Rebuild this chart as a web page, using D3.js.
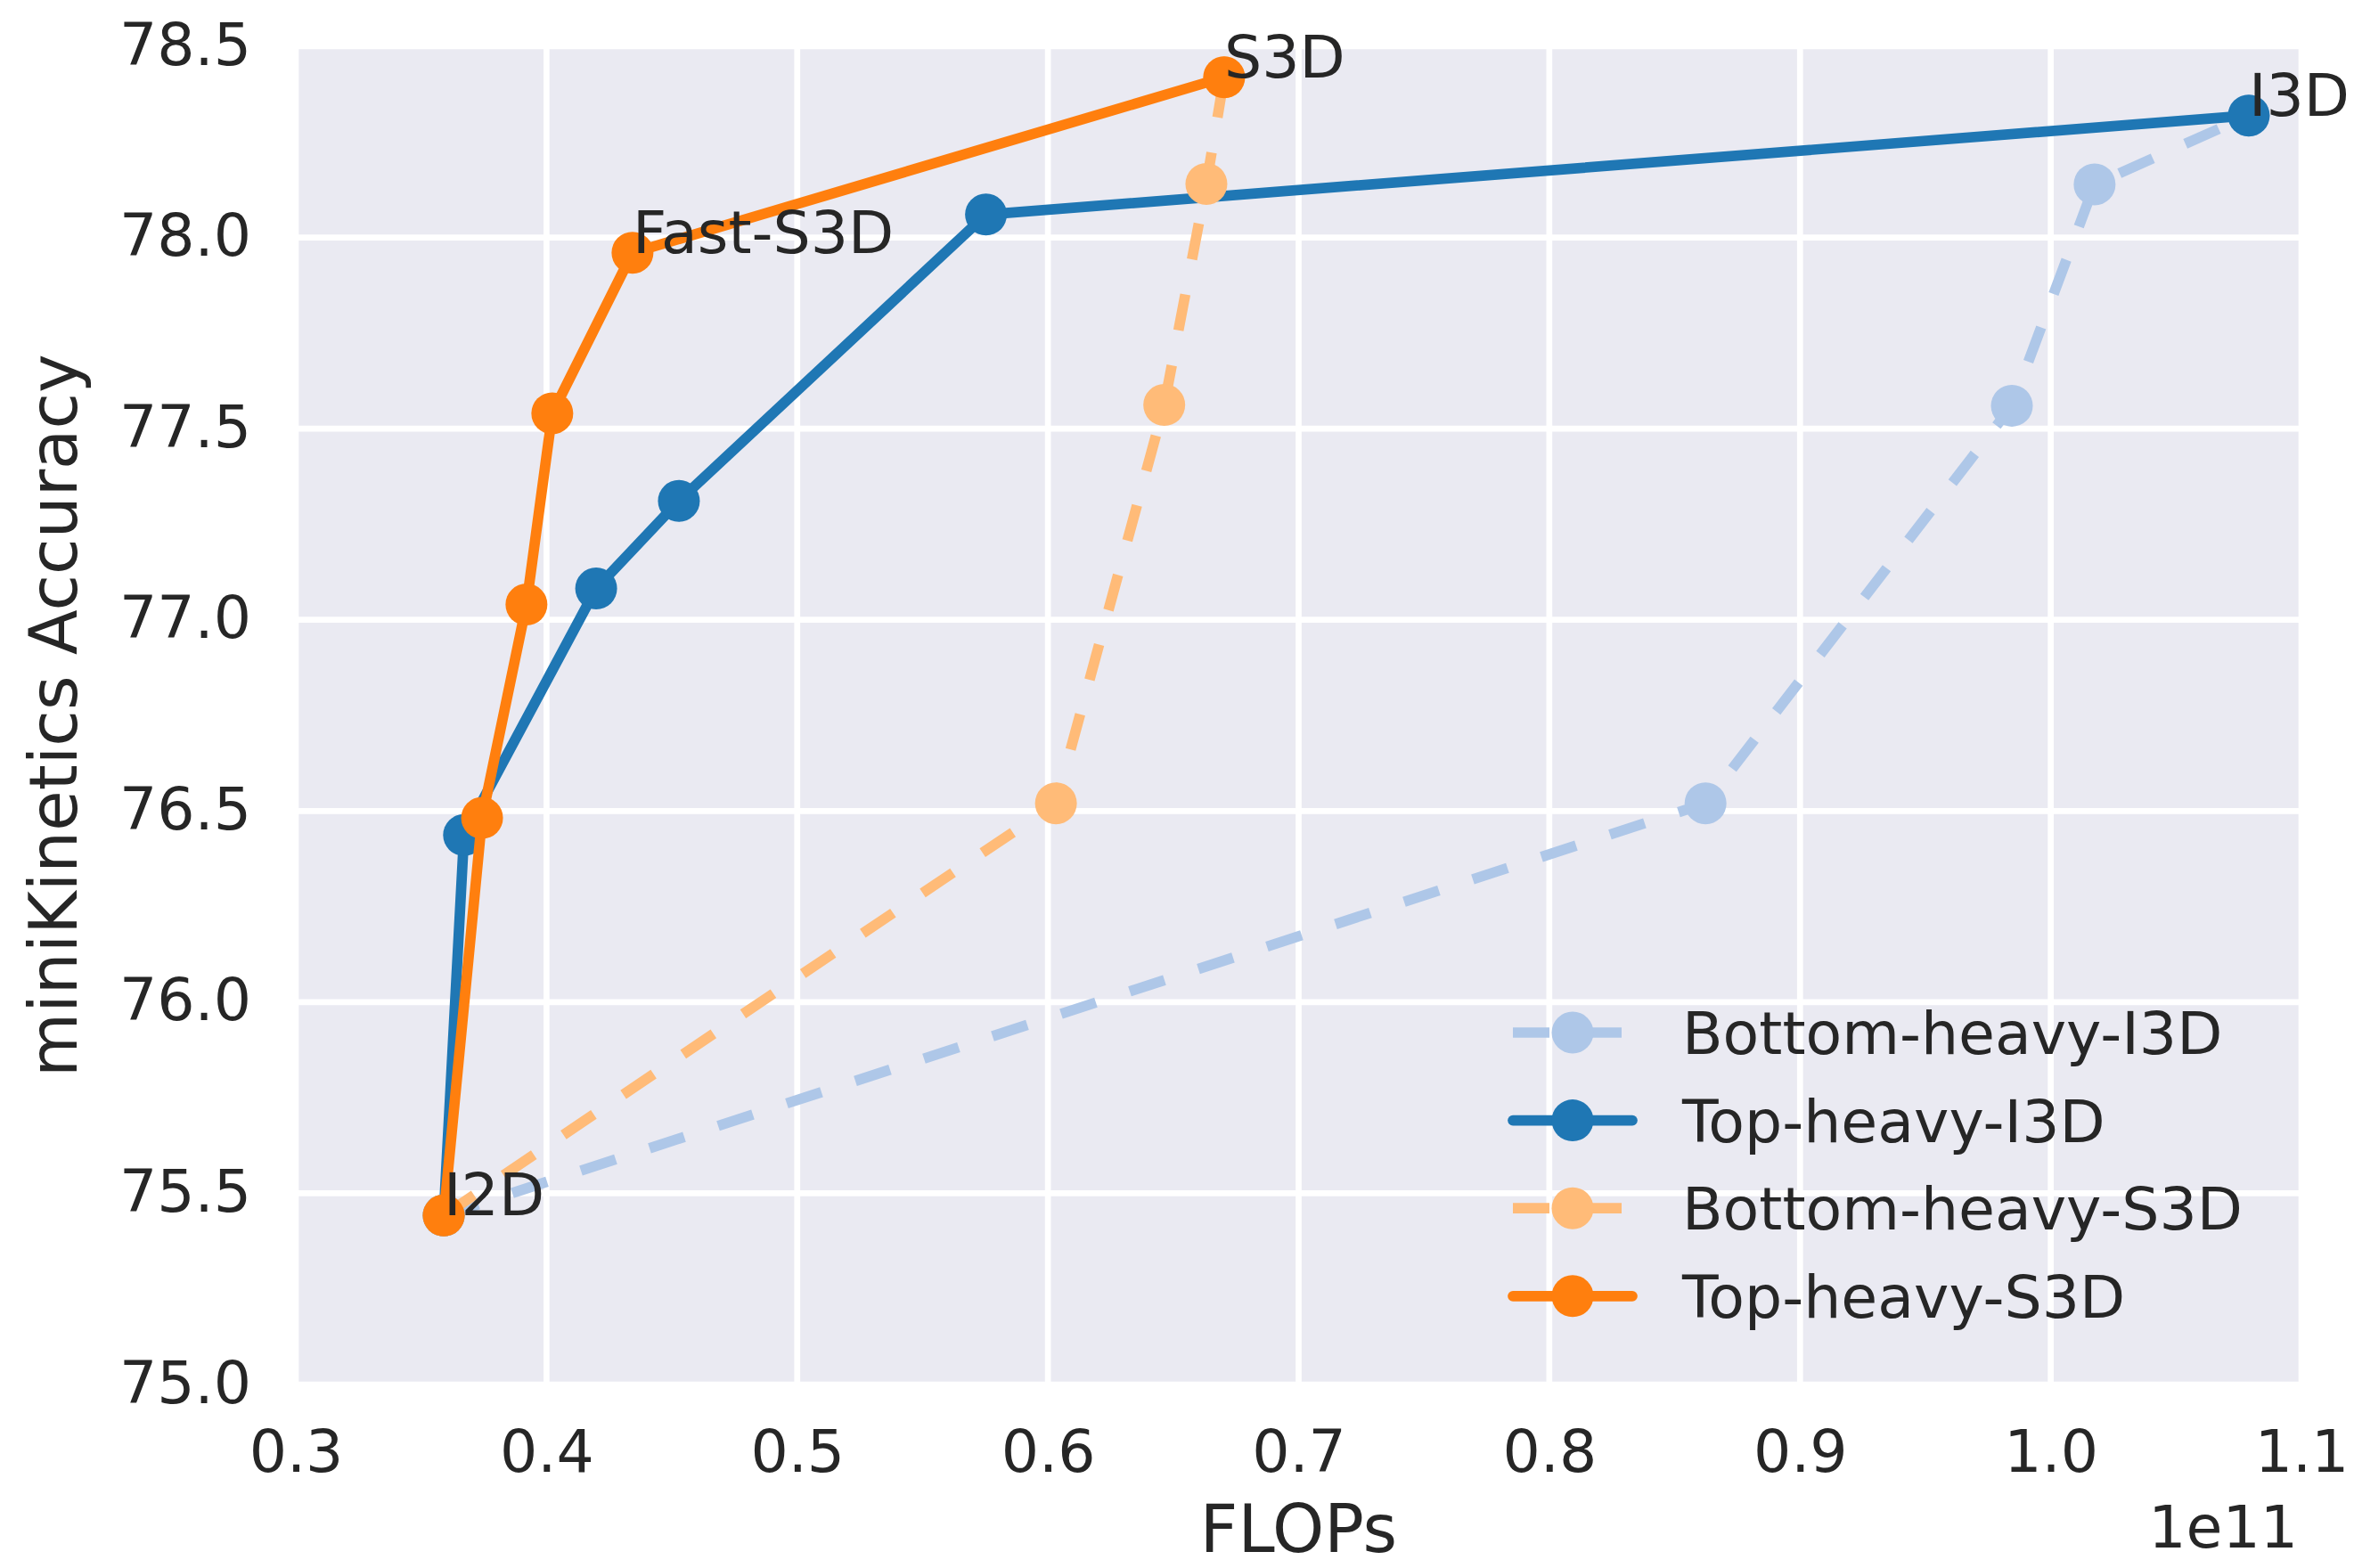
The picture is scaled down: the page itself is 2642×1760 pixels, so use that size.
<!DOCTYPE html>
<html>
<head>
<meta charset="utf-8">
<script src="https://cdn.jsdelivr.net/npm/d3@7"></script>
<style>
body { margin: 0; background: #ffffff; }
text { font-family: "DejaVu Sans", sans-serif; fill: #262626; }
</style>
</head>
<body>
<div id="plot"></div>
<script>
// values (FLOPs in units of 1e11)
const flopsBottomI3D = [0.359, 0.8623, 0.9845, 1.0175, 1.079];
const accBottomI3D   = [75.442, 76.52, 77.56, 78.139, 78.319];

const flopsTopI3D = [0.359, 0.3671, 0.4198, 0.4528, 0.5753, 1.079];
const accTopI3D   = [75.442, 76.437, 77.082, 77.311, 78.06, 78.319];

const flopsBottomS3D = [0.359, 0.6032, 0.6464, 0.6632, 0.6703];
const accBottomS3D   = [75.442, 76.52, 77.562, 78.14, 78.419];

const flopsTopS3D = [0.359, 0.3743, 0.392, 0.4023, 0.4343, 0.6703];
const accTopS3D   = [75.442, 76.482, 77.04, 77.54, 77.96, 78.419];

const seriesNames  = ["Bottom-heavy-I3D", "Top-heavy-I3D", "Bottom-heavy-S3D", "Top-heavy-S3D"];
const seriesColors = ["#aec7e8", "#1f77b4", "#ffbb78", "#ff7f0e"];
const seriesDashed = [true, false, true, false];

const annoNames = ["I2D", "I3D", "S3D", "Fast-S3D"];
const annoFlops = [0.359, 1.079, 0.6703, 0.4343];
const annoAcc   = [75.442, 78.319, 78.419, 77.96];

const xTicks = [0.3, 0.4, 0.5, 0.6, 0.7, 0.8, 0.9, 1.0, 1.1];
const yTicks = [75.0, 75.5, 76.0, 76.5, 77.0, 77.5, 78.0, 78.5];

const W = 2642, H = 1760;
const margin = {top: 52, right: 59, bottom: 206, left: 332},
width = W - margin.left - margin.right,
height = H - margin.top - margin.bottom;

const fs = "66.5px";

const svg = d3.select("#plot")
.append("svg")
.attr("width", W)
.attr("height", H);

const g = svg.append("g")
.attr("transform", `translate(${margin.left},${margin.top})`);

const x = d3.scaleLinear().domain([0.3, 1.1]).range([0, width]);
const y = d3.scaleLinear().domain([75.0, 78.5]).range([height, 0]);

// darkgrid background
g.append("rect")
.attr("width", width)
.attr("height", height)
.attr("fill", "#eaeaf2");

g.append("g")
.selectAll("line")
.data(xTicks)
.join("line")
.attr("x1", d => x(d)).attr("x2", d => x(d))
.attr("y1", 0).attr("y2", height)
.attr("stroke", "#ffffff")
.attr("stroke-width", 6.7);

g.append("g")
.selectAll("line")
.data(yTicks)
.join("line")
.attr("y1", d => y(d)).attr("y2", d => y(d))
.attr("x1", 0).attr("x2", width)
.attr("stroke", "#ffffff")
.attr("stroke-width", 6.7);

// tick labels via axes, with lines hidden
const xAxis = g.append("g")
.attr("transform", `translate(0, ${height})`)
.call(d3.axisBottom(x).tickValues(xTicks).tickFormat(d3.format(".1f")).tickSize(0).tickPadding(0));
xAxis.select(".domain").remove();
xAxis.selectAll("text")
.attr("y", 98)
.attr("dy", null)
.style("font-size", fs)
.style("font-family", "DejaVu Sans")
.attr("fill", "#262626");

const yAxis = g.append("g")
.call(d3.axisLeft(y).tickValues(yTicks).tickFormat(d3.format(".1f")).tickSize(0).tickPadding(0));
yAxis.select(".domain").remove();
yAxis.selectAll("text")
.attr("x", -50)
.attr("dy", null)
.attr("y", 20)
.style("font-size", fs)
.style("font-family", "DejaVu Sans")
.attr("fill", "#262626");

svg.append("text")
.attr("x", margin.left + width / 2)
.attr("y", 1742)
.attr("text-anchor", "middle")
.style("font-size", "74px")
.text("FLOPs");

svg.append("text")
.attr("transform", `translate(86, ${margin.top + height / 2}) rotate(-90)`)
.attr("text-anchor", "middle")
.style("font-size", "74px")
.text("miniKinetics Accuracy");

svg.append("text")
.attr("x", margin.left + width - 4)
.attr("y", 1737)
.attr("text-anchor", "end")
.style("font-size", fs)
.text("1e11");

// series
const allFlops = [flopsBottomI3D, flopsTopI3D, flopsBottomS3D, flopsTopS3D];
const allAcc   = [accBottomI3D, accTopI3D, accBottomS3D, accTopS3D];
const lw = 11.7, r = 23.5;

const line = d3.line().x(d => x(d[0])).y(d => y(d[1]));

allFlops.forEach((fl, i) => {
	const pts = fl.map((f, k) => [f, allAcc[i][k]]);
	const s = g.append("g");
	s.append("path")
	.attr("d", line(pts))
	.attr("fill", "none")
	.attr("stroke", seriesColors[i])
	.attr("stroke-width", lw)
	.attr("stroke-linejoin", "round")
	.attr("stroke-linecap", seriesDashed[i] ? "butt" : "round")
	.attr("stroke-dasharray", seriesDashed[i] ? "41,40" : null);
	s.selectAll("circle")
	.data(pts)
	.join("circle")
	.attr("cx", d => x(d[0]))
	.attr("cy", d => y(d[1]))
	.attr("r", r)
	.attr("fill", seriesColors[i]);
});

// annotations
g.append("g")
.selectAll("text")
.data(annoNames)
.join("text")
.attr("x", (d, i) => x(annoFlops[i]))
.attr("y", (d, i) => y(annoAcc[i]))
.style("font-size", fs)
.text(d => d);

// legend
const legend = svg.append("g").attr("transform", "translate(1765, 1159)");
seriesNames.forEach((name, i) => {
	const row = legend.append("g").attr("transform", `translate(0, ${i * 98.6})`);
	row.append("line")
	.attr("x1", -67).attr("x2", 67)
	.attr("stroke", seriesColors[i])
	.attr("stroke-width", lw)
	.attr("stroke-linecap", seriesDashed[i] ? "butt" : "round")
	.attr("stroke-dasharray", seriesDashed[i] ? "41,40" : null);
	row.append("circle")
	.attr("r", r)
	.attr("fill", seriesColors[i]);
	row.append("text")
	.attr("x", 123)
	.attr("y", 24)
	.style("font-size", fs)
	.text(name);
});
</script>
</body>
</html>
